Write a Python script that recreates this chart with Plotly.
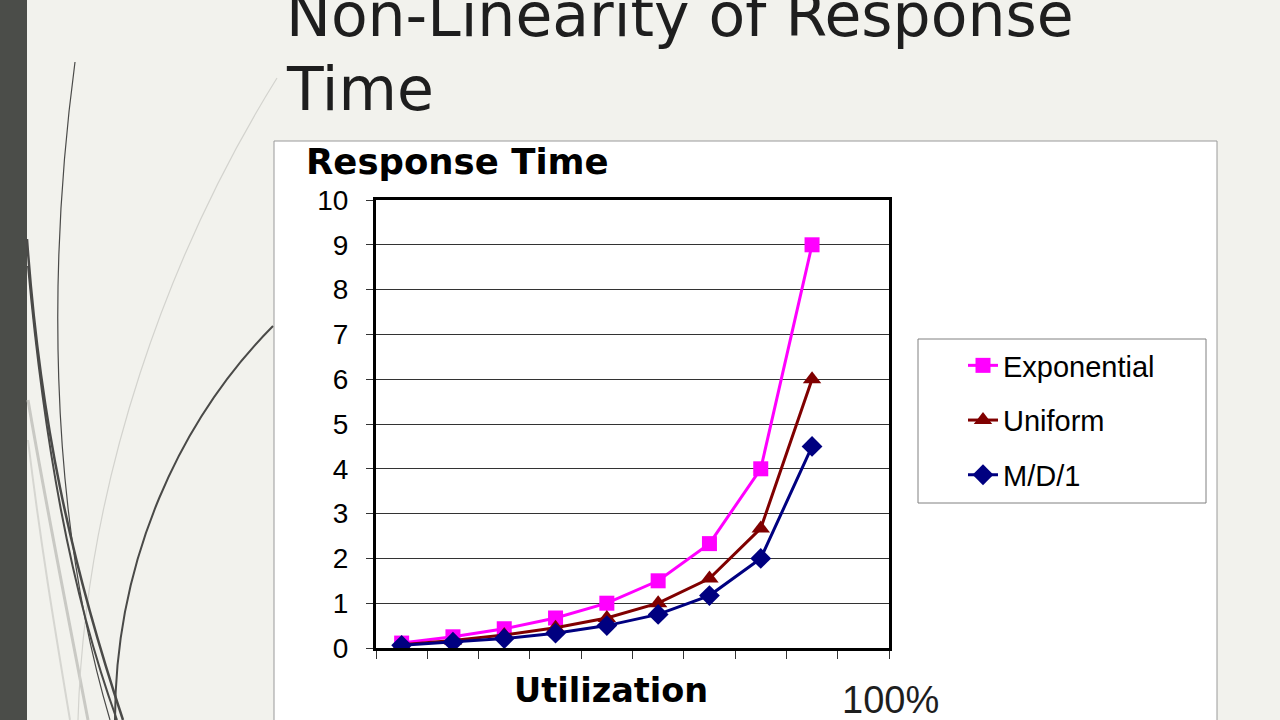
import plotly.graph_objects as go

# ---- data ----
utilization = ["10%", "20%", "30%", "40%", "50%", "60%", "70%", "80%", "90%"]
exponential = [0.11, 0.25, 0.43, 0.67, 1.00, 1.50, 2.33, 4.00, 9.00]
uniform = [0.07, 0.17, 0.29, 0.45, 0.67, 1.00, 1.55, 2.67, 6.00]
md1 = [0.06, 0.13, 0.21, 0.33, 0.50, 0.75, 1.17, 2.00, 4.50]
y_ticks = [0, 1, 2, 3, 4, 5, 6, 7, 8, 9, 10]

W, H = 1280, 720


def px(x):
    return x / W


def py(y):
    return 1 - y / H


# category positions (centre of each slot on a 10-slot axis)
xpos = [i + 0.5 for i in range(len(utilization))]

fig = go.Figure()

series = [
    ("Exponential", exponential, "#FF00FF", "square", 15),
    ("Uniform", uniform, "#800000", "triangle-up", 16),
    ("M/D/1", md1, "#000080", "diamond", 16),
]
for name, vals, col, sym, sz in series:
    fig.add_trace(go.Scatter(
        x=xpos, y=vals, name=name, mode="lines+markers",
        text=utilization, legendgroup=name,
        line=dict(color=col, width=3),
        marker=dict(color=col, symbol=sym, size=sz),
    ))

# ---- background decoration ----
shapes = []
# white chart box
shapes.append(dict(type="rect", xref="paper", yref="paper",
                   x0=px(274), x1=px(1217), y0=py(741), y1=py(141),
                   fillcolor="white", line=dict(color="#9a9a9a", width=1),
                   layer="below"))
# left dark strip
shapes.append(dict(type="rect", xref="paper", yref="paper",
                   x0=0, x1=px(27), y0=0, y1=1,
                   fillcolor="#4b4d49", line=dict(width=0), layer="below"))


def curve(pts, color, width):
    (x0, y0), (x1, y1), (x2, y2), (x3, y3) = pts
    p = (f"M {px(x0)},{py(y0)} C {px(x1)},{py(y1)} {px(x2)},{py(y2)} "
         f"{px(x3)},{py(y3)}")
    return dict(type="path", xref="paper", yref="paper", path=p,
                line=dict(color=color, width=width), layer="below")


shapes += [
    curve([(28, 400), (45, 500), (65, 600), (88, 720)], "#c9c9c4", 3),
    curve([(28, 440), (40, 540), (55, 630), (70, 720)], "#d6d6d1", 2),
    curve([(277, 78), (170, 250), (85, 480), (78, 720)], "#d3d3ce", 1.2),
    curve([(75, 62), (50, 250), (45, 500), (110, 720)], "#4a4a48", 1.2),
    curve([(27, 239), (40, 420), (70, 560), (123, 720)], "#4a4a48", 2.5),
    curve([(28, 266), (44, 440), (70, 590), (117, 720)], "#4a4a48", 2),
    curve([(273, 326), (180, 420), (115, 560), (115, 720)], "#4a4a48", 2),
]
# chart legend box
shapes.append(dict(type="rect", xref="paper", yref="paper",
                   x0=px(918), x1=px(1206), y0=py(503), y1=py(339),
                   line=dict(color="#808080", width=1), fillcolor="rgba(0,0,0,0)"))

annotations = [
    dict(text="Non-Linearity of Response", x=px(284), y=py(52), xref="paper",
         yref="paper", xanchor="left", yanchor="bottom", showarrow=False,
         font=dict(family="DejaVu Sans", size=60, color="#1e1e1e")),
    dict(text="Time", x=px(284), y=py(126), xref="paper",
         yref="paper", xanchor="left", yanchor="bottom", showarrow=False,
         font=dict(family="DejaVu Sans", size=60, color="#1e1e1e")),
    dict(text="<b>Response Time</b>", x=px(304), y=py(162), xref="paper",
         yref="paper", xanchor="left", yanchor="middle", showarrow=False,
         font=dict(family="DejaVu Sans", size=35.5, color="black")),
    dict(text="<b>Utilization</b>", x=px(611), y=py(690), xref="paper",
         yref="paper", xanchor="center", yanchor="middle", showarrow=False,
         font=dict(family="DejaVu Sans", size=33.5, color="black")),
    dict(text="100%", x=px(890), y=py(700), xref="paper",
         yref="paper", xanchor="center", yanchor="middle", showarrow=False,
         font=dict(family="Liberation Sans", size=38, color="#1e1e1e")),
]

fig.update_layout(
    width=W, height=H, autosize=False,
    margin=dict(l=0, r=0, t=0, b=0, pad=0, autoexpand=False),
    paper_bgcolor="#f2f2ed",
    plot_bgcolor="white",
    shapes=shapes,
    annotations=annotations,
    showlegend=True,
    legend=dict(x=px(963), y=py(340), xanchor="left", yanchor="top",
                bgcolor="rgba(0,0,0,0)", borderwidth=0,
                font=dict(family="Liberation Sans", size=29, color="black"),
                tracegroupgap=14, itemsizing="trace"),
    xaxis=dict(domain=[px(376), px(889)], range=[0, 10],
               tickvals=list(range(11)), showticklabels=False,
               ticks="outside", ticklen=8, tickcolor="#333", tickwidth=1,
               showgrid=False, zeroline=False, automargin=False,
               showline=True, linecolor="black", linewidth=3, mirror=True),
    yaxis=dict(domain=[py(648), py(200)], range=[0, 10],
               tickvals=y_ticks, ticks="outside", ticklen=7,
               tickcolor="#333", tickwidth=1, automargin=False,
               tickfont=dict(family="Liberation Sans", size=28, color="black"),
               ticklabelstandoff=12,
               showgrid=True, gridcolor="#333333", gridwidth=1,
               zeroline=False,
               showline=True, linecolor="black", linewidth=3, mirror=True),
)

fig.write_html("out.html", config={"displayModeBar": False},
               post_script="document.body.style.margin='0';")
